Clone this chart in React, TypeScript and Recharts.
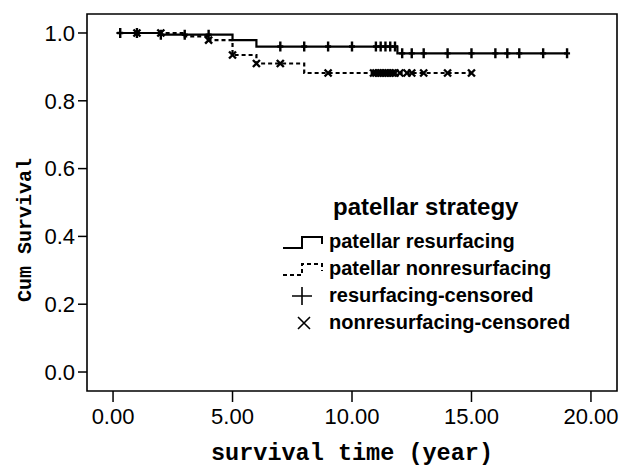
import React from "react";
import {
  ComposedChart,
  Line,
  Scatter,
  XAxis,
  YAxis,
  ReferenceArea,
  Legend,
} from "recharts";

// Kaplan-Meier step points (time in years, cumulative survival)
const resurfTimes = [0.15, 2.0, 5.0, 6.0, 11.9, 19.0];
const resurfSurv = [1.0, 0.995, 0.979, 0.96, 0.94, 0.94];

const nonresurfTimes = [0.15, 3.0, 4.0, 5.0, 6.0, 8.0, 15.0];
const nonresurfSurv = [1.0, 0.99, 0.979, 0.935, 0.91, 0.882, 0.882];

// censored cases
const resurfCensT = [0.3, 1.0, 2.0, 3.0, 4.0, 7.0, 8.0, 9.0, 10.0, 11.0, 11.2, 11.4, 11.6, 11.8, 12.1, 12.5, 13.0, 14.0, 15.0, 16.0, 16.5, 17.0, 18.0, 19.0];
const resurfCensS = [1.0, 1.0, 0.995, 0.995, 0.995, 0.96, 0.96, 0.96, 0.96, 0.96, 0.96, 0.96, 0.96, 0.96, 0.94, 0.94, 0.94, 0.94, 0.94, 0.94, 0.94, 0.94, 0.94, 0.94];

const nonresurfCensT = [1.0, 2.0, 4.0, 5.0, 6.0, 7.0, 9.0, 10.9, 11.0, 11.1, 11.2, 11.3, 11.4, 11.5, 11.6, 11.7, 11.8, 12.0, 12.3, 12.5, 13.0, 14.0, 15.0];
const nonresurfCensS = [1.0, 1.0, 0.979, 0.935, 0.91, 0.91, 0.882, 0.882, 0.882, 0.882, 0.882, 0.882, 0.882, 0.882, 0.882, 0.882, 0.882, 0.882, 0.882, 0.882, 0.882, 0.882, 0.882];

const xTicks = [0, 5, 10, 15, 20];
const yTicks = [0, 0.2, 0.4, 0.6, 0.8, 1.0];
const X_DOMAIN: [number, number] = [-1.09, 21.09];
const Y_DOMAIN: [number, number] = [-0.056, 1.056];

const legendItems = [
  { key: "solid", label: "patellar resurfacing" },
  { key: "dashed", label: "patellar nonresurfacing" },
  { key: "plus", label: "resurfacing-censored" },
  { key: "cross", label: "nonresurfacing-censored" },
];

const zip = (t: number[], s: number[]) => t.map((v, i) => ({ t: v, s: s[i] }));

const resurfLine = zip(resurfTimes, resurfSurv);
const nonresurfLine = zip(nonresurfTimes, nonresurfSurv);
const resurfCens = zip(resurfCensT, resurfCensS);
const nonresurfCens = zip(nonresurfCensT, nonresurfCensS);

const SANS = "'Liberation Sans', Arial, sans-serif";
const MONO = "'Liberation Mono', 'Courier New', monospace";

function PlusMark({ cx, cy }: { cx?: number; cy?: number }) {
  if (cx == null || cy == null) return null;
  return (
    <path
      d={`M${cx},${cy - 5}V${cy + 5}M${cx - 3},${cy}H${cx + 3}`}
      stroke="#000"
      strokeWidth={2.4}
      fill="none"
    />
  );
}

function CrossMark({ cx, cy }: { cx?: number; cy?: number }) {
  if (cx == null || cy == null) return null;
  const r = 3.5;
  return (
    <path
      d={`M${cx - r},${cy - r}L${cx + r},${cy + r}M${cx - r},${cy + r}L${cx + r},${cy - r}`}
      stroke="#000"
      strokeWidth={2.4}
      fill="none"
    />
  );
}

function LegendSymbol({ kind }: { kind: string }) {
  if (kind === "solid" || kind === "dashed") {
    return (
      <svg width={44} height={22} style={{ display: "block" }}>
        <path
          d="M2,17H21V6H41V13"
          stroke="#000"
          strokeWidth={2}
          fill="none"
          strokeDasharray={kind === "dashed" ? "4 3" : undefined}
        />
      </svg>
    );
  }
  if (kind === "plus") {
    return (
      <svg width={44} height={22} style={{ display: "block" }}>
        <path d="M21,2V20M11,11H31" stroke="#000" strokeWidth={1.6} fill="none" />
      </svg>
    );
  }
  return (
    <svg width={44} height={22} style={{ display: "block" }}>
      <path d="M17,5L29,17M17,17L29,5" stroke="#000" strokeWidth={1.6} fill="none" />
    </svg>
  );
}

function StrategyLegend() {
  return (
    <div style={{ fontFamily: SANS, color: "#000" }}>
      <div
        style={{
          fontSize: 24,
          lineHeight: "26px",
          fontWeight: "bold",
          marginLeft: 52,
          marginBottom: 8,
          whiteSpace: "nowrap",
        }}
      >
        patellar strategy
      </div>
      {legendItems.map((it) => (
        <div key={it.key} style={{ display: "flex", alignItems: "center", height: 27 }}>
          <LegendSymbol kind={it.key} />
          <span style={{ fontSize: 20, fontWeight: "bold", marginLeft: 4, whiteSpace: "nowrap" }}>
            {it.label}
          </span>
        </div>
      ))}
    </div>
  );
}

function YTitle() {
  return (
    <text
      x={31}
      y={230}
      transform="rotate(-90 31 230)"
      textAnchor="middle"
      fill="#000"
      fontSize={20}
      fontWeight="bold"
      fontFamily={MONO}
    >
      Cum Survival
    </text>
  );
}

export default function App() {
  return (
    <div style={{ width: 622, height: 466, background: "#fff" }}>
      <style>{`body{margin:0}`}</style>
      <ComposedChart
        width={622}
        height={466}
        margin={{ top: 14, right: 5, bottom: 0, left: 0 }}
      >
        <XAxis
          dataKey="t"
          type="number"
          domain={X_DOMAIN}
          ticks={xTicks}
          allowDataOverflow
          axisLine={false}
          tickLine={{ stroke: "#000", strokeWidth: 1.5 }}
          tickSize={11}
          tickMargin={6}
          height={75}
          tick={{ fill: "#000", fontSize: 22, fontFamily: SANS }}
          tickFormatter={(v: number) => v.toFixed(2)}
          label={{
            value: "survival time (year)",
            position: "insideBottom",
            offset: 6,
            fill: "#000",
            fontSize: 23.5,
            fontWeight: "bold",
            fontFamily: MONO,
          }}
        />
        <YAxis
          dataKey="s"
          type="number"
          domain={Y_DOMAIN}
          ticks={yTicks}
          allowDataOverflow
          axisLine={false}
          tickLine={{ stroke: "#000", strokeWidth: 1.5 }}
          tickSize={9}
          tickMargin={3}
          width={87}
          tick={{ fill: "#000", fontSize: 22, fontFamily: SANS }}
          tickFormatter={(v: number) => v.toFixed(1)}
          label={{ content: () => <YTitle /> }}
        />
        <ReferenceArea
          x1={X_DOMAIN[0]}
          x2={X_DOMAIN[1]}
          y1={Y_DOMAIN[0]}
          y2={Y_DOMAIN[1]}
          fill="none"
          stroke="#000"
          strokeWidth={1.6}
          ifOverflow="visible"
        />
        <Line
          data={resurfLine}
          dataKey="s"
          type="stepAfter"
          stroke="#000"
          strokeWidth={2.2}
          dot={false}
          isAnimationActive={false}
        />
        <Line
          data={nonresurfLine}
          dataKey="s"
          type="stepAfter"
          stroke="#000"
          strokeWidth={2.2}
          strokeDasharray="4 3"
          dot={false}
          isAnimationActive={false}
        />
        <Scatter data={resurfCens} dataKey="s" shape={<PlusMark />} isAnimationActive={false} />
        <Scatter data={nonresurfCens} dataKey="s" shape={<CrossMark />} isAnimationActive={false} />
        <Legend
          layout="vertical"
          align="center"
          verticalAlign="middle"
          content={<StrategyLegend />}
          wrapperStyle={{ left: 281, top: 194, width: 330 }}
        />
      </ComposedChart>
    </div>
  );
}
